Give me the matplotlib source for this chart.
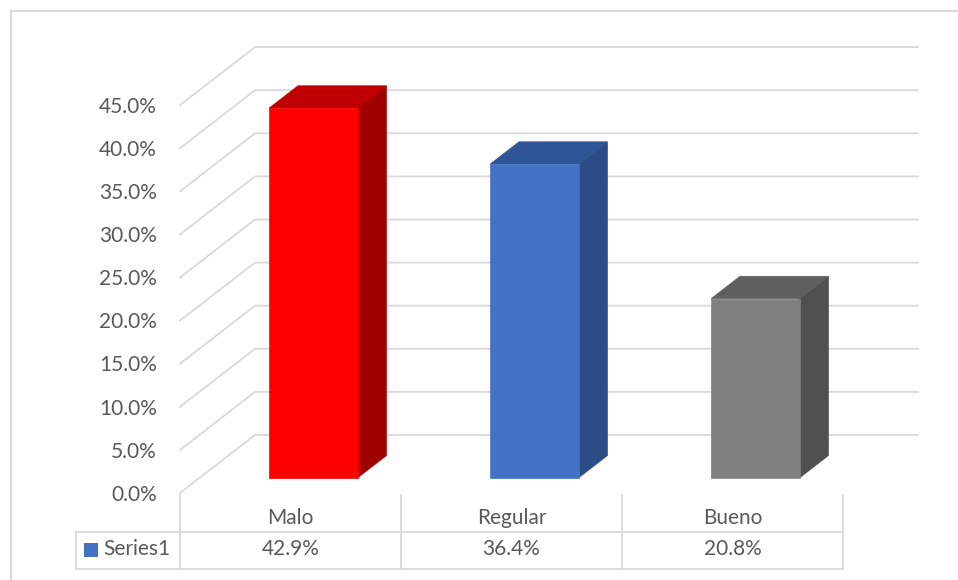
import matplotlib.pyplot as plt
from matplotlib.patches import Polygon, Rectangle

categories = ["Malo", "Regular", "Bueno"]
values = [42.9, 36.4, 20.8]
value_labels = ["42.9%", "36.4%", "20.8%"]
ticks = [0, 5, 10, 15, 20, 25, 30, 35, 40, 45]
tick_labels = ["0.0%", "5.0%", "10.0%", "15.0%", "20.0%", "25.0%", "30.0%", "35.0%", "40.0%", "45.0%"]
series_name = "Series1"

front_colors = ["#FF0000", "#4472C4", "#7F7F7F"]
top_colors = ["#C00000", "#2F5597", "#5F5F5F"]
side_colors = ["#A00000", "#2C4C85", "#505050"]

plt.rcParams['font.family'] = ['Lato', 'DejaVu Sans']
TXT = "#595959"
GRID = "#D9D9D9"

W, H = 958, 580
# pixel scale of one category slot and of one percent
px_cat = 221.0
px_pct = 8.62
x0_px, y0_px = 180.0, 493.0

fig = plt.figure(figsize=(W / 100, H / 100), dpi=100)
ax = fig.add_axes([0, 0, 1, 1])
ax.set_xlim(-x0_px / px_cat, (W - x0_px) / px_cat)
ax.set_ylim((y0_px - H) / px_pct, y0_px / px_pct)
ax.axis("off")

# oblique depth offset (full floor depth) in data units
DX = 75 / px_cat
DY = 58 / px_pct

def proj(x, v, d):
    return (x + d * DX, v + d * DY)

ncat = len(categories)

# outer chart border
ax.plot([-169 / px_cat, (W + 5 - x0_px) / px_cat], [(y0_px - 11) / px_pct] * 2, color=GRID, lw=1.5, clip_on=False)
ax.plot([-169 / px_cat] * 2, [(y0_px - 11) / px_pct, (y0_px - H - 5) / px_pct], color=GRID, lw=1.5, clip_on=False)

# side wall / back wall gridlines
for t, lab in zip(ticks, tick_labels):
    p0 = proj(0, t, 0)
    p1 = proj(0, t, 1)
    p2 = proj(ncat, t, 1)
    ax.plot([p0[0], p1[0], p2[0]], [p0[1], p1[1], p2[1]], color=GRID, lw=1.3, zorder=1)
    ax.text(-23 / px_cat, t - 0.2, lab, ha="right", va="center", fontsize=15, color=TXT)

# 3D columns
d_front, d_back = 0.26, 0.645
off, width = 0.315, 0.40
for i, v in enumerate(values):
    xl = i + off
    xr = xl + width
    front = [proj(xl, 0, d_front), proj(xr, 0, d_front), proj(xr, v, d_front), proj(xl, v, d_front)]
    top = [proj(xl, v, d_front), proj(xr, v, d_front), proj(xr, v, d_back), proj(xl, v, d_back)]
    side = [proj(xr, 0, d_front), proj(xr, 0, d_back), proj(xr, v, d_back), proj(xr, v, d_front)]
    ax.add_patch(Polygon(side, closed=True, fc=side_colors[i], ec=side_colors[i], lw=0.5, zorder=3))
    ax.add_patch(Polygon(top, closed=True, fc=top_colors[i], ec=top_colors[i], lw=0.5, zorder=3))
    ax.add_patch(Polygon(front, closed=True, fc=front_colors[i], ec=front_colors[i], lw=0.5, zorder=4))

# data table under the plot
row1_top = (y0_px - 495) / px_pct
row_mid = (y0_px - 532) / px_pct
row_bot = (y0_px - 569) / px_pct
left_px = (76 - x0_px) / px_cat
for i in range(ncat + 1):
    ax.plot([i, i], [row1_top, row_bot], color=GRID, lw=1.3)
ax.plot([left_px, ncat], [row_mid, row_mid], color=GRID, lw=1.3)
ax.plot([left_px, ncat], [row_bot, row_bot], color=GRID, lw=1.3)
ax.plot([left_px, left_px], [row_mid, row_bot], color=GRID, lw=1.3)

for i, (c, lab) in enumerate(zip(categories, value_labels)):
    ax.text(i + 0.5, (y0_px - 518) / px_pct, c, ha="center", va="center", fontsize=15, color=TXT)
    ax.text(i + 0.5, (y0_px - 549) / px_pct, lab, ha="center", va="center", fontsize=15, color=TXT)

ax.add_patch(Rectangle(((84 - x0_px) / px_cat, (y0_px - 557) / px_pct), 14 / px_cat, 14 / px_pct,
                       fc="#4472C4", ec="none"))
ax.text((103 - x0_px) / px_cat, (y0_px - 549) / px_pct, series_name, ha="left", va="center",
        fontsize=15, color=TXT)

fig.savefig("out.png", dpi=100)
